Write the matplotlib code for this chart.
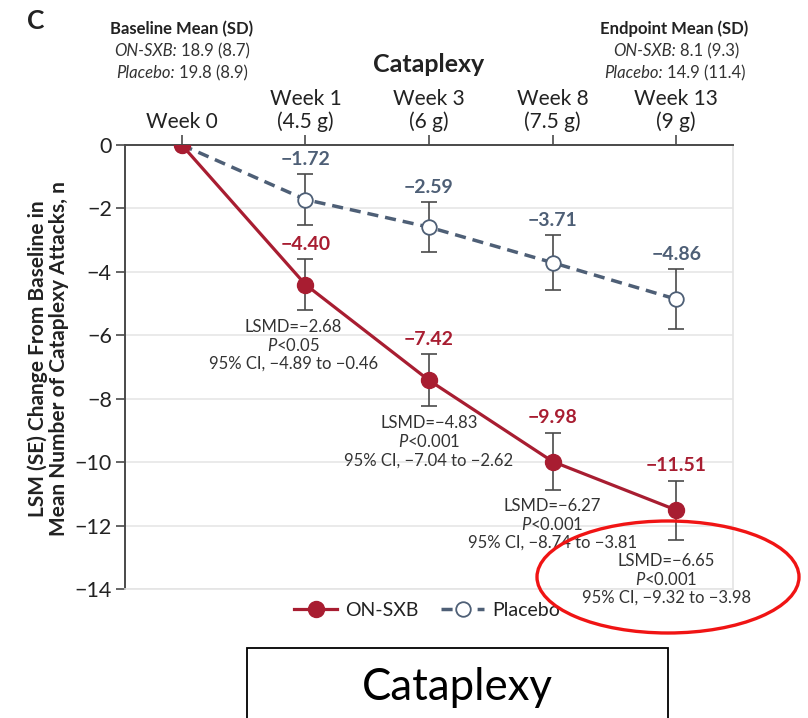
import matplotlib
matplotlib.use("Agg")
import matplotlib.pyplot as plt
from matplotlib.patches import Ellipse, Rectangle
from matplotlib.offsetbox import TextArea, HPacker, AnnotationBbox

plt.rcParams['font.family'] = ['Lato', 'DejaVu Sans']
plt.rcParams['mathtext.fontset'] = 'custom'
plt.rcParams['mathtext.it'] = 'Lato:italic'
plt.rcParams['mathtext.rm'] = 'Lato'

# data
week_labels = ['Week 0', 'Week 1\n(4.5 g)', 'Week 3\n(6 g)', 'Week 8\n(7.5 g)', 'Week 13\n(9 g)']
onsxb = [0, -4.40, -7.42, -9.98, -11.51]
onsxb_se = [0, 0.79, 0.82, 0.90, 0.93]
placebo = [0, -1.72, -2.59, -3.71, -4.86]
placebo_se = [0, 0.79, 0.79, 0.87, 0.95]
lsmd = [-2.68, -4.83, -6.27, -6.65]
pval = ['<0.05', '<0.001', '<0.001', '<0.001']
ci_lo = [-4.89, -7.04, -8.74, -9.32]
ci_hi = [-0.46, -2.62, -3.81, -3.98]

RED = '#a81d31'
BLUE = '#4e5f76'
GREY = '#4a4a4a'
TXT = '#333333'

W, H = 808, 718
fig = plt.figure(figsize=(W / 100, H / 100), dpi=100)
ax = fig.add_axes([125 / W, 1 - 589 / H, (733 - 125) / W, (589 - 145) / H])

x = list(range(len(week_labels)))

def neg(v):
    return f'{v:.2f}'.replace('-', '\u2212')

# lines
ln_p, = ax.plot(x, placebo, color=BLUE, lw=2.5, ls=(0, (3.2, 2.0)), marker='o',
                ms=10.5, mfc='white', mec=BLUE, mew=1.3, zorder=3, label='Placebo')
ln_o, = ax.plot(x, onsxb, color=RED, lw=2.3, marker='o', ms=11.5, mfc=RED, mec=RED,
                zorder=4, label='ON-SXB')
ax.errorbar(x[1:], placebo[1:], yerr=placebo_se[1:], fmt='none', ecolor=GREY,
            elinewidth=1.2, capsize=5.5, capthick=1.2, zorder=2)
ax.errorbar(x[1:], onsxb[1:], yerr=onsxb_se[1:], fmt='none', ecolor=GREY,
            elinewidth=1.2, capsize=5.5, capthick=1.2, zorder=2)

# value labels above the error bars
for i in x[1:]:
    ax.annotate(neg(placebo[i]), (i, placebo[i] + placebo_se[i]), xytext=(0, 15),
                textcoords='offset pixels', ha='center', va='center',
                fontsize=14, fontweight='bold', color=BLUE)
    ax.annotate(neg(onsxb[i]), (i, onsxb[i] + onsxb_se[i]), xytext=(0, 15),
                textcoords='offset pixels', ha='center', va='center',
                fontsize=14, fontweight='bold', color=RED)

# LSMD notes under the ON-SXB points
dx = [-12, 0, 0, -10]
dy = [17, 17, 16, 21]
for k in range(4):
    i = k + 1
    base = (i, onsxb[i] - onsxb_se[i])
    lines = [f'LSMD={neg(lsmd[k])}', f'$P${pval[k]}',
             f'95% CI, {neg(ci_lo[k])} to {neg(ci_hi[k])}']
    for j, t in enumerate(lines):
        ax.annotate(t, base, xytext=(dx[k], -dy[k] - 18.5 * j), textcoords='offset pixels',
                    ha='center', va='center', fontsize=12, color=TXT,
                    annotation_clip=False, zorder=6)

ax.set_xlim(-0.46, 4.46)
ax.set_ylim(-14, 0)
ax.set_yticks(range(0, -15, -2))
ax.set_yticklabels(['0'] + [f'\u2212{v}' for v in range(2, 15, 2)])
ax.xaxis.tick_top()
ax.set_xticks(x)
ax.set_xticklabels(week_labels)
ax.tick_params(axis='x', length=7, width=1.2, color=GREY, labelsize=15, pad=2, labelcolor='#222222')
ax.tick_params(axis='y', length=6.5, width=1.2, color=GREY, labelsize=15.5, pad=3, labelcolor='#222222')
for s in ['left', 'top']:
    ax.spines[s].set_color(GREY)
    ax.spines[s].set_linewidth(1.4)
for s in ['right', 'bottom']:
    ax.spines[s].set_color('#e4e4e4')
    ax.spines[s].set_linewidth(1.2)
ax.yaxis.grid(True, color='#e8e8e8', lw=1.3)
ax.set_axisbelow(True)

fig.text(48 / W, 1 - 359 / H,
         'LSM (SE) Change From Baseline in\nMean Number of Cataplexy Attacks, n',
         rotation=90, ha='center', va='center', multialignment='center',
         fontsize=15, fontweight='bold', color='#222222', linespacing=1.08)


def mixed(px, py, parts, size=12, color=TXT):
    boxes = [TextArea(t, textprops=dict(fontstyle=st, fontsize=size, color=color))
             for t, st in parts]
    pack = HPacker(children=boxes, align='baseline', pad=0, sep=3)
    ab = AnnotationBbox(pack, (px, H - py), xycoords='figure pixels', frameon=False,
                        box_alignment=(0.5, 0.5), pad=0)
    fig.add_artist(ab)


# header blocks
fig.text(36 / W, 1 - 21 / H, 'C', fontsize=19, fontweight='bold', ha='center', va='center', color='#222222')
fig.text(182 / W, 1 - 29 / H, 'Baseline Mean (SD)', fontsize=12, fontweight='bold',
         ha='center', va='center', color='#222222')
mixed(182, 51, [('ON-SXB:', 'italic'), ('18.9 (8.7)', 'normal')])
mixed(182, 73, [('Placebo:', 'italic'), ('19.8 (8.9)', 'normal')])
fig.text(674 / W, 1 - 29 / H, 'Endpoint Mean (SD)', fontsize=12, fontweight='bold',
         ha='center', va='center', color='#222222')
mixed(676, 51, [('ON-SXB:', 'italic'), ('8.1 (9.3)', 'normal')])
mixed(675, 73, [('Placebo:', 'italic'), ('14.9 (11.4)', 'normal')])
fig.text(429 / W, 1 - 64 / H, 'Cataplexy', fontsize=18, fontweight='bold',
         ha='center', va='center', color='#222222')

fig.legend(handles=[ln_o, ln_p], loc='center', bbox_to_anchor=(427 / W, 1 - 610 / H),
           ncol=2, frameon=False, fontsize=14, handlelength=2.2, columnspacing=1.2,
           handletextpad=0.4, labelcolor='#222222')

# highlight ring and caption box
fig.add_artist(Ellipse((668 / W, 1 - 577 / H), 262 / W, 112 / H, transform=fig.transFigure,
                       fill=False, ec='#f01414', lw=2.4, zorder=10))
fig.add_artist(Rectangle((247 / W, -0.01), (668 - 247) / W, 0.01 + (718 - 648) / H,
                         transform=fig.transFigure, fill=False, ec='black', lw=1.3))
fig.text(457 / W, 1 - 687 / H, 'Cataplexy', fontsize=31.5, ha='center', va='center', color='black')

fig.savefig('out.png', dpi=100)
